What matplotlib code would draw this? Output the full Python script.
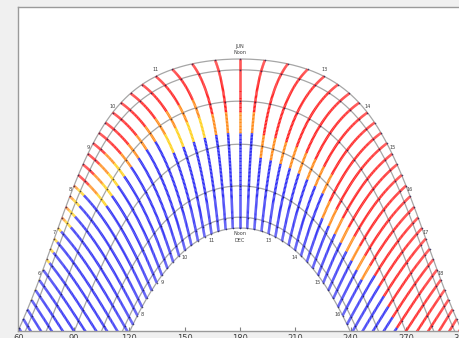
import numpy as np
import matplotlib.pyplot as plt
from matplotlib.collections import LineCollection
from matplotlib.colors import ListedColormap, BoundaryNorm

LAT = 38.0

# 21st of each month, June through December (day of year)
month_days = [172, 202, 233, 264, 294, 325, 355]

# hour lines every quarter hour (solar time)
line_times = np.arange(4.75, 19.26, 0.25)

# hour labels along the June (outer) and December (inner) paths
jun_label_hours = [6, 7, 8, 9, 10, 11, 13, 14, 15, 16, 17, 18]
dec_label_hours = [8, 9, 10, 11, 13, 14, 15, 16]

# air temperature (C): rows are half-month dates, columns clock hours 5..19
temp_days = [172, 187, 202, 218, 233, 249, 264, 279, 294, 310, 325, 340, 355]
temp_hours = list(range(5, 20))
temps = [
    [19.0, 22.0, 24.0, 26.0, 27.0, 28.0, 29.0, 30.0, 31.0, 32.0, 32.0, 32.0, 31.0, 30.0, 28.0],
    [19.0, 20.0, 22.0, 24.0, 26.0, 27.0, 28.5, 29.5, 31.0, 32.0, 32.0, 32.0, 31.0, 30.0, 28.0],
    [18.5, 19.5, 20.5, 22.0, 25.5, 26.5, 28.0, 29.0, 30.0, 31.0, 31.5, 31.5, 30.5, 29.0, 27.5],
    [18.0, 19.0, 20.0, 20.5, 24.0, 25.5, 27.0, 28.0, 29.0, 30.0, 30.5, 30.5, 29.5, 28.5, 27.0],
    [17.5, 18.5, 19.0, 20.0, 22.0, 24.0, 24.0, 25.5, 27.5, 28.5, 29.0, 29.0, 28.0, 27.0, 26.0],
    [17.0, 17.5, 18.0, 19.0, 20.0, 20.5, 22.0, 23.5, 25.5, 26.5, 27.0, 27.0, 26.5, 26.0, 25.5],
    [16.0, 16.5, 17.0, 18.0, 19.0, 19.5, 20.0, 20.5, 24.0, 24.5, 26.0, 26.0, 25.5, 25.5, 25.0],
    [15.0, 15.5, 16.0, 17.0, 18.0, 18.5, 19.0, 19.5, 20.0, 20.5, 24.0, 23.5, 20.5, 20.0, 20.0],
    [14.0, 14.5, 15.0, 15.5, 16.5, 17.0, 18.0, 18.5, 19.0, 19.5, 20.0, 20.0, 19.5, 19.0, 18.5],
    [12.5, 13.0, 13.5, 14.0, 15.0, 16.0, 17.0, 17.5, 18.0, 18.5, 18.5, 18.5, 17.5, 17.0, 16.0],
    [11.0, 11.5, 12.0, 12.5, 13.5, 15.0, 16.0, 17.0, 17.5, 17.5, 17.5, 17.0, 16.0, 15.0, 14.0],
    [10.0, 10.0, 10.5, 11.0, 12.0, 13.0, 14.5, 15.5, 16.0, 16.0, 16.0, 15.5, 14.5, 13.5, 12.5],
    [9.0, 9.0, 9.5, 10.0, 11.0, 12.0, 13.5, 14.5, 15.0, 15.0, 15.0, 14.5, 13.5, 12.5, 11.5],
]
temp_bounds = [-50, 21, 23, 25, 60]
temp_colors = ['#2f2ff5', '#ffd21f', '#ff8c1a', '#ff2020']


def declination(day):
    return 23.44 * np.sin(2 * np.pi * (284 + np.asarray(day)) / 365.0)


def sun_position(day, t):
    """altitude and azimuth (deg, from north) for day of year and solar time"""
    phi = np.radians(LAT)
    dec = np.radians(declination(day))
    h = np.radians(15.0 * (np.asarray(t) - 12.0))
    alt = np.arcsin(np.sin(phi) * np.sin(dec) + np.cos(phi) * np.cos(dec) * np.cos(h))
    az = np.arctan2(np.sin(h), np.cos(h) * np.sin(phi) - np.tan(dec) * np.cos(phi))
    return np.degrees(alt), np.degrees(az) + 180.0


temps = np.array(temps)
cmap = ListedColormap(temp_colors)
norm = BoundaryNorm(temp_bounds, cmap.N)

fig = plt.figure(figsize=(4.59, 3.38), dpi=100, facecolor='#f0f0f0')
ax = fig.add_axes([18 / 459, 7 / 338, 444 / 459, 324.5 / 338])
ax.set_facecolor('white')

# x range spans June sunrise to sunset
h0 = np.degrees(np.arccos(-np.tan(np.radians(LAT)) * np.tan(np.radians(declination(172)))))
_, az_rise = sun_position(172, 12 - h0 / 15.0)
_, az_set = sun_position(172, 12 + h0 / 15.0)
ax.set_xlim(az_rise, az_set)
ax.set_ylim(0, 90)

# monthly sun paths
for d in month_days:
    tt = np.linspace(3, 21, 600)
    alt, az = sun_position(d, tt)
    ok = alt >= -0.5
    ax.plot(az[ok], alt[ok], color='#a6a6a6', lw=0.9, zorder=1)

# quarter-hour lines coloured by temperature, one point per day
days = np.arange(172, 356)
step = (temp_days[-1] - temp_days[0]) / (len(temp_days) - 1)
row = np.clip(np.rint((days - temp_days[0]) / step).astype(int), 0, len(temp_days) - 1)
for t in line_times:
    alt, az = sun_position(days, t)
    col = int(np.clip(np.floor(t + 0.5), temp_hours[0], temp_hours[-1])) - temp_hours[0]
    vals = temps[row, col]
    pts = np.column_stack([az, alt])
    segs = np.stack([pts[:-1], pts[1:]], axis=1)
    keep = (alt[:-1] > -2) | (alt[1:] > -2)
    lc = LineCollection(segs[keep], cmap=cmap, norm=norm, linewidths=1.8,
                        capstyle='butt', zorder=2)
    lc.set_array(vals[:-1][keep])
    ax.add_collection(lc)

# dark dots where hour lines cross the monthly paths
for d in month_days:
    alt, az = sun_position(d, line_times)
    ok = alt > 0
    ax.scatter(az[ok], alt[ok], s=1.4, color='#1c1c50', alpha=0.75, lw=0, zorder=3)

# hour labels
for hr in jun_label_hours:
    alt, az = sun_position(172, hr)
    ax.text(az, alt + 1.8, str(hr), fontsize=3.6, color='#404040',
            ha='center', va='center', zorder=4)
for hr in dec_label_hours:
    alt, az = sun_position(355, hr)
    ax.text(az, alt - 2.0, str(hr), fontsize=3.6, color='#404040',
            ha='center', va='center', zorder=4)

alt, az = sun_position(172, 12)
ax.text(az, alt + 1.0, 'JUN\nNoon', fontsize=3.6, color='#404040',
        ha='center', va='bottom', linespacing=1.4, zorder=4)
alt, az = sun_position(355, 12)
ax.text(az, alt - 0.8, 'Noon\nDEC', fontsize=3.6, color='#404040',
        ha='center', va='top', linespacing=1.4, zorder=4)

ax.set_xticks(np.arange(60, 301, 30))
ax.set_xticklabels([str(v) for v in range(60, 301, 30)], fontsize=6, color='#404040')
ax.set_yticks([])
ax.tick_params(axis='x', direction='in', length=3, color='#808080', pad=2.5)
for s in ax.spines.values():
    s.set_color('#9a9a9a')
    s.set_linewidth(1.0)

fig.savefig('out.png', dpi=100, facecolor=fig.get_facecolor())
